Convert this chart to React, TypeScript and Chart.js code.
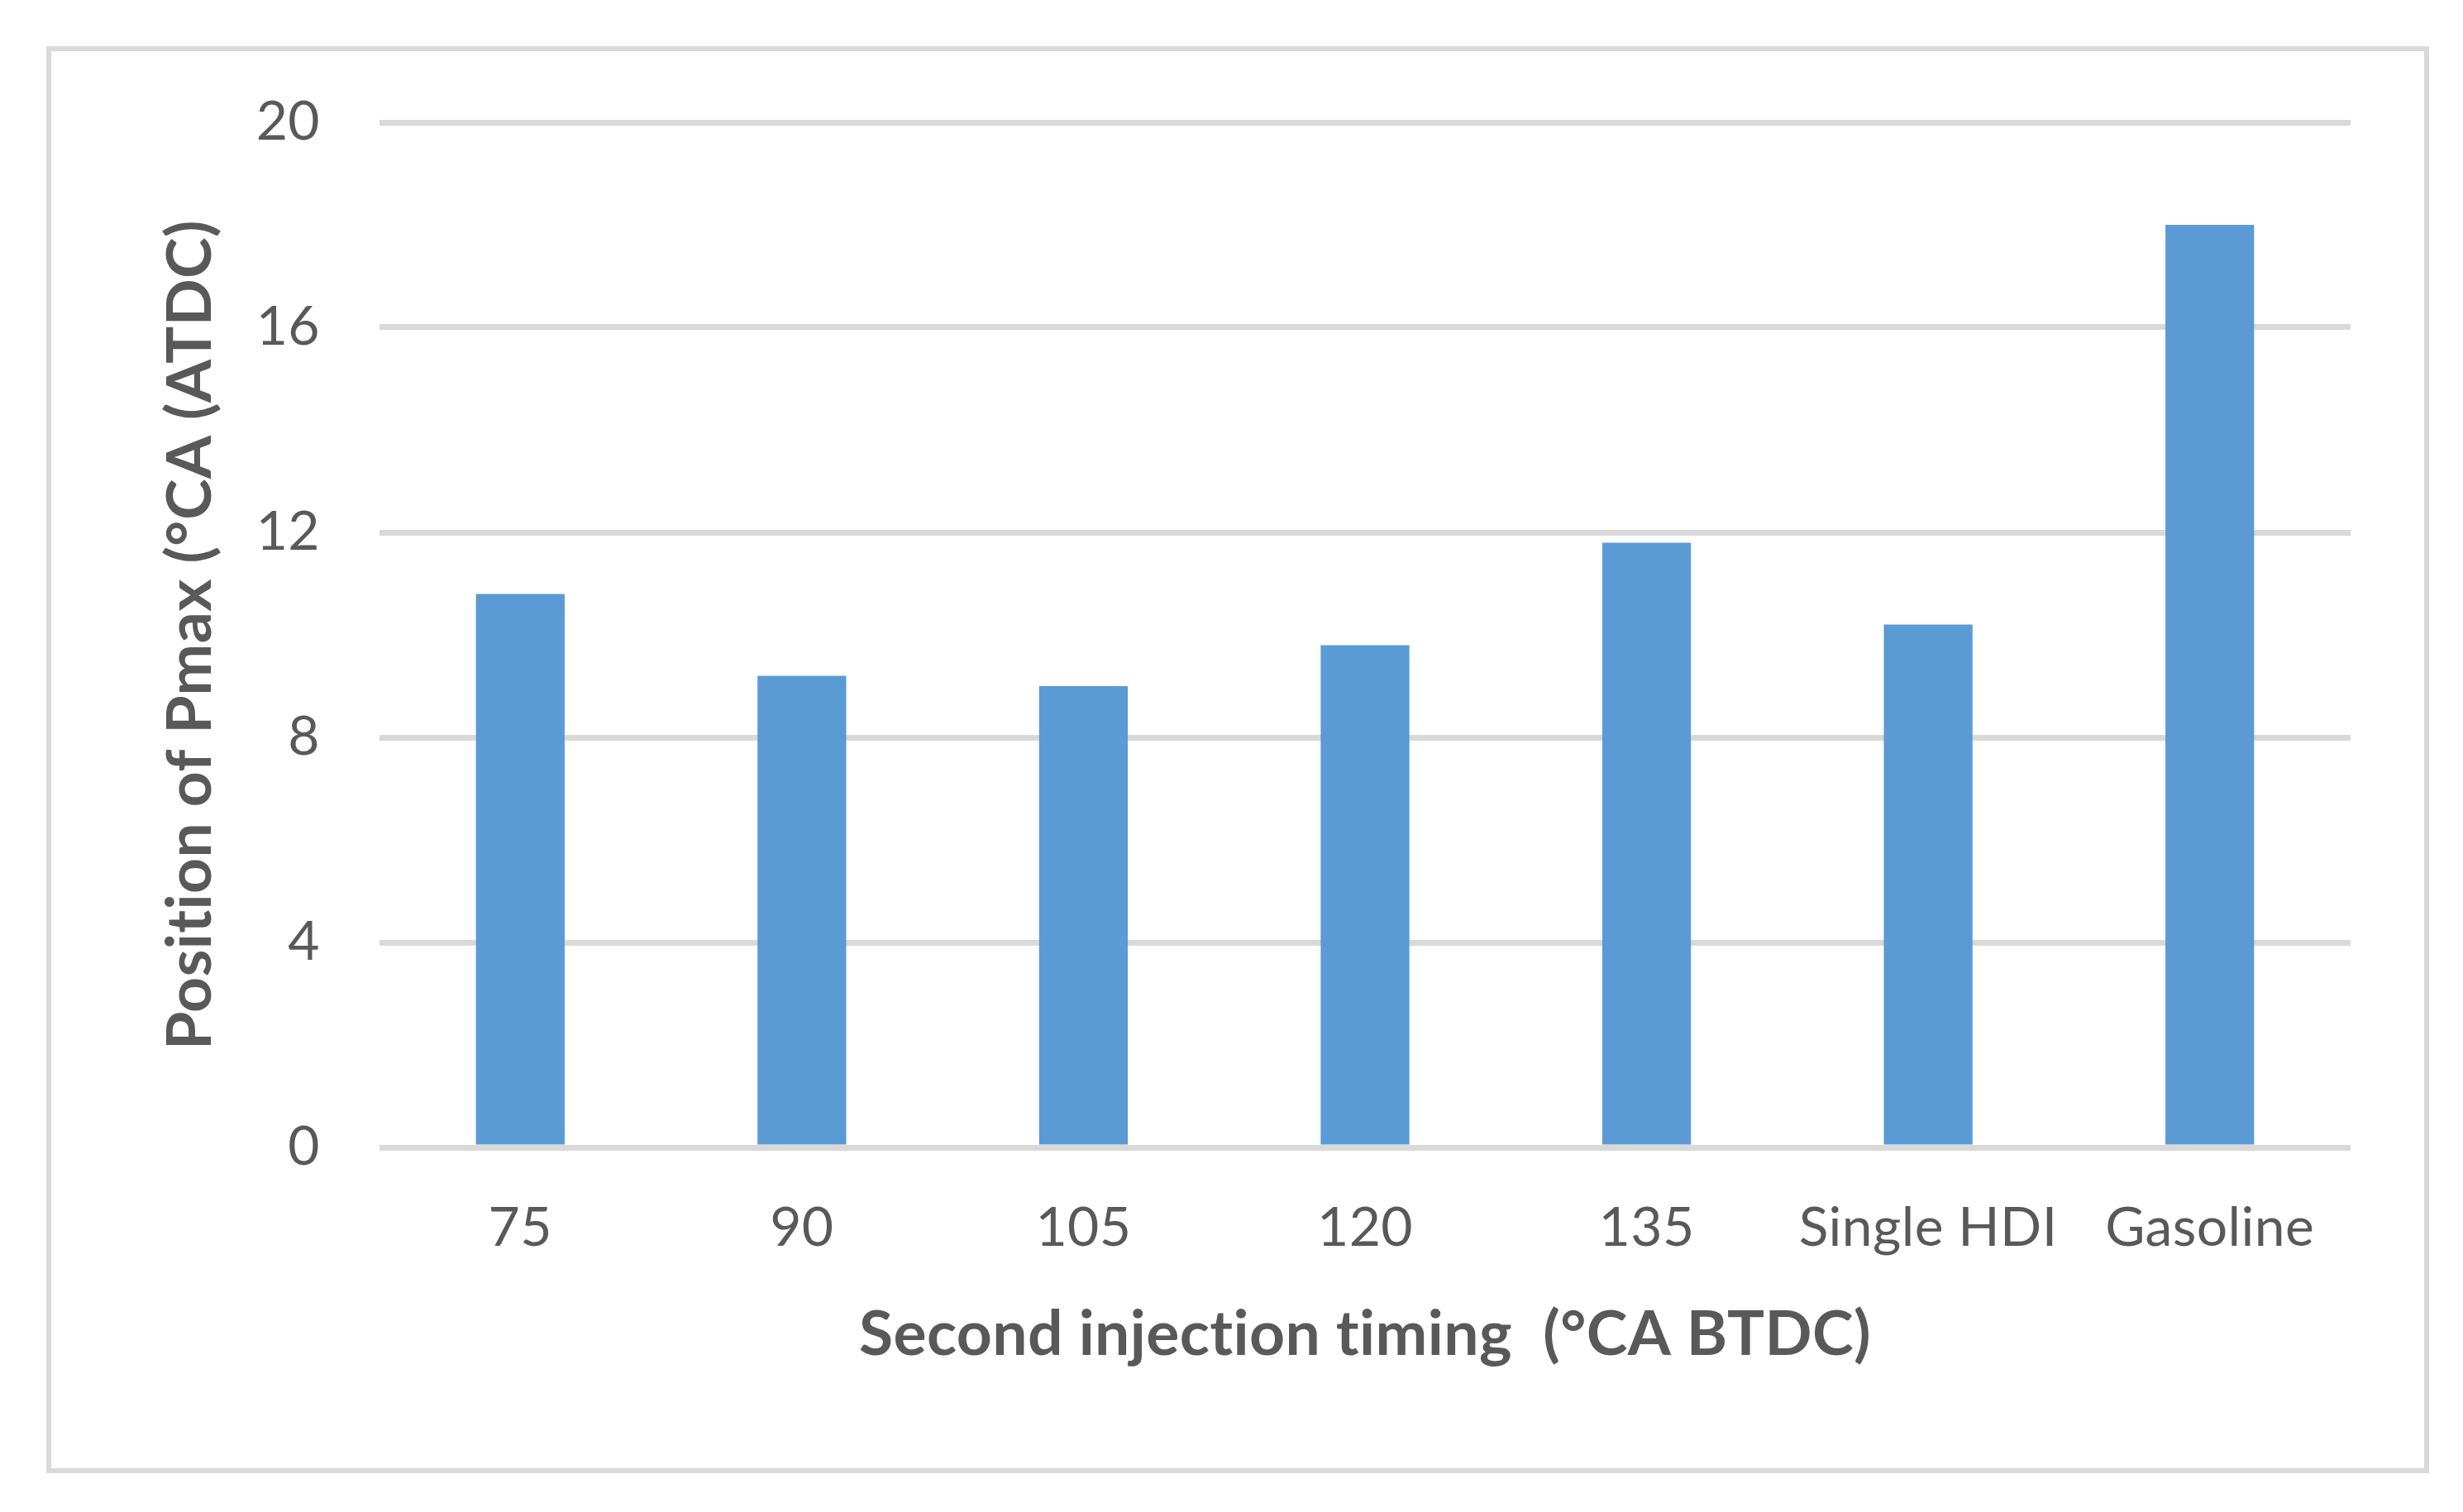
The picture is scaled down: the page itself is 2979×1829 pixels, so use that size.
import React, { useEffect, useRef } from "react";
import { Chart, registerables } from "chart.js";

Chart.register(...registerables);

const categories = ["75", "90", "105", "120", "135", "Single HDI", "Gasoline"];
const pmaxPosition = [10.8, 9.2, 9.0, 9.8, 11.8, 10.2, 18.0];
const yTicks = [0, 4, 8, 12, 16, 20];

const W = 2979;
const H = 1829;
const TEXT = "#595959";
const GRID = "#d9d9d9";
const FONT = "Lato, 'Open Sans', sans-serif";

const noLigatures = {
  id: "noLigatures",
  beforeDraw(chart: any) {
    try {
      (chart.ctx as any).letterSpacing = "0.4px";
    } catch (e) {
      /* ignore */
    }
  },
};

export default function App() {
  const ref = useRef<HTMLCanvasElement | null>(null);

  useEffect(() => {
    if (!ref.current) return;
    const chart = new Chart(ref.current, {
      type: "bar",
      data: {
        labels: categories,
        datasets: [
          {
            label: "Position of Pmax",
            data: pmaxPosition,
            backgroundColor: "#5b9bd5",
            borderWidth: 0,
            barPercentage: 0.315,
            categoryPercentage: 1,
          },
        ],
      },
      plugins: [noLigatures],
      options: {
        animation: false,
        responsive: false,
        devicePixelRatio: 1,
        layout: { padding: { left: 0, right: 136, top: 148, bottom: 0 } },
        plugins: {
          legend: { display: false },
          tooltip: { enabled: false },
        },
        scales: {
          x: {
            grid: { display: false, drawTicks: false },
            border: { display: false },
            ticks: {
              color: TEXT,
              font: { family: FONT, size: 66 },
              padding: 58,
              maxRotation: 0,
              autoSkip: false,
            },
            title: {
              display: true,
              text: "Second injection timing  (°CA BTDC)",
              color: TEXT,
              font: { family: FONT, size: 75, weight: "bold" },
              padding: { top: 0, bottom: 169 },
            },
            afterFit: (scale: any) => {
              scale.height = H - 1388;
            },
          },
          y: {
            min: 0,
            max: 20,
            afterBuildTicks: (scale: any) => {
              scale.ticks = yTicks.map((v) => ({ value: v }));
            },
            grid: { color: GRID, lineWidth: 7, drawTicks: false },
            border: { display: false },
            ticks: {
              color: TEXT,
              font: { family: FONT, size: 66 },
              padding: 72,
            },
            title: {
              display: true,
              text: "Position of Pmax (°CA (ATDC)",
              color: TEXT,
              font: { family: FONT, size: 75, weight: "bold" },
              padding: { top: 186, bottom: 0 },
            },
            afterFit: (scale: any) => {
              scale.width = 459;
            },
          },
        },
      },
    });
    return () => chart.destroy();
  }, []);

  return (
    <div
      style={{
        position: "absolute",
        left: 0,
        top: 0,
        width: W,
        height: H,
        background: "#ffffff",
        overflow: "hidden",
      }}
    >
      <div
        style={{
          position: "absolute",
          left: 56,
          top: 56,
          width: 2882,
          height: 1726,
          border: `6px solid ${GRID}`,
          boxSizing: "border-box",
        }}
      />
      <canvas
        ref={ref}
        width={W}
        height={H}
        style={{ position: "absolute", left: 0, top: 0, width: W, height: H }}
      />
    </div>
  );
}
